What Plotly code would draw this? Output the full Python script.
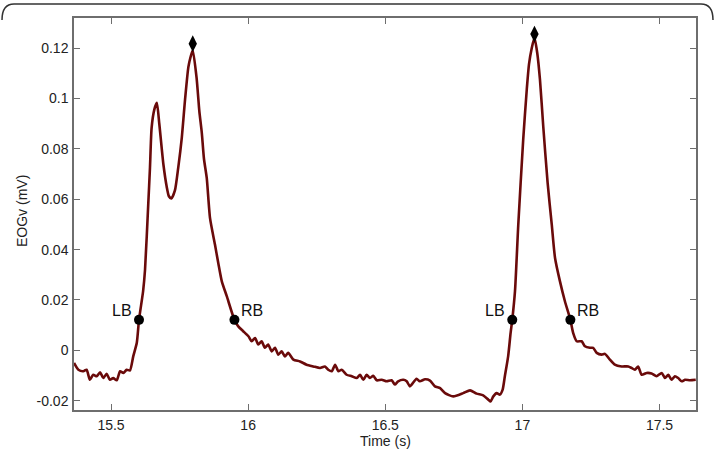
import plotly.graph_objects as go

# ---- data ----
time_s = [
    15.365, 15.381, 15.399, 15.411, 15.423, 15.435, 15.448, 15.460, 15.472, 15.484,
    15.496, 15.508, 15.521, 15.533, 15.545, 15.557, 15.569, 15.581, 15.594, 15.602,
    15.617, 15.624, 15.636, 15.642, 15.648, 15.658, 15.667, 15.676, 15.691, 15.703,
    15.711, 15.720, 15.733, 15.745, 15.758, 15.770, 15.782, 15.790, 15.798, 15.812,
    15.822, 15.831, 15.839, 15.849, 15.861, 15.879, 15.891, 15.904, 15.922, 15.950,
    15.964, 15.982, 16.001, 16.013, 16.025, 16.037, 16.049, 16.061, 16.073, 16.086,
    16.098, 16.110, 16.122, 16.134, 16.146, 16.165, 16.189, 16.213, 16.238, 16.262,
    16.280, 16.292, 16.305, 16.317, 16.329, 16.341, 16.359, 16.378, 16.396, 16.408,
    16.420, 16.432, 16.444, 16.456, 16.469, 16.487, 16.505, 16.523, 16.535, 16.547,
    16.566, 16.578, 16.590, 16.614, 16.626, 16.645, 16.663, 16.681, 16.700, 16.718,
    16.748, 16.784, 16.809, 16.833, 16.857, 16.876, 16.884, 16.894, 16.906, 16.918,
    16.928, 16.936, 16.948, 16.957, 16.963, 16.973, 16.985, 17.003, 17.016, 17.024,
    17.034, 17.044, 17.054, 17.064, 17.076, 17.092, 17.107, 17.119, 17.137, 17.155,
    17.175, 17.185, 17.198, 17.216, 17.228, 17.246, 17.258, 17.271, 17.289, 17.301,
    17.319, 17.337, 17.362, 17.386, 17.398, 17.410, 17.422, 17.435, 17.453, 17.471,
    17.489, 17.508, 17.520, 17.532, 17.544, 17.556, 17.568, 17.581, 17.593, 17.611,
    17.632,
]
eogv_mv = [
    -0.0050, -0.0077, -0.0083, -0.0077, -0.0117, -0.0097, -0.0103, -0.0087, -0.0110, -0.0093,
    -0.0117, -0.0110, -0.0119, -0.0083, -0.0090, -0.0077, -0.0080, -0.0024, 0.0030, 0.0121,
    0.0235, 0.0320, 0.0586, 0.0725, 0.0884, 0.0957, 0.0983, 0.0900, 0.0738, 0.0650,
    0.0612, 0.0603, 0.0635, 0.0725, 0.0844, 0.0997, 0.1125, 0.1165, 0.1192, 0.1082,
    0.0950, 0.0864, 0.0760, 0.0685, 0.0525, 0.0420, 0.0347, 0.0274, 0.0215, 0.0121,
    0.0095, 0.0076, 0.0056, 0.0036, 0.0049, 0.0023, 0.0036, 0.0010, 0.0023, -0.0004,
    0.0010, -0.0017, -0.0004, -0.0024, -0.0010, -0.0037, -0.0044, -0.0057, -0.0064, -0.0070,
    -0.0064, -0.0077, -0.0083, -0.0057, -0.0083, -0.0077, -0.0097, -0.0103, -0.0110, -0.0097,
    -0.0117, -0.0097, -0.0110, -0.0101, -0.0119, -0.0117, -0.0123, -0.0119, -0.0136, -0.0123,
    -0.0117, -0.0123, -0.0143, -0.0113, -0.0123, -0.0115, -0.0120, -0.0143, -0.0150, -0.0170,
    -0.0183, -0.0170, -0.0159, -0.0172, -0.0179, -0.0196, -0.0203, -0.0183, -0.0170, -0.0176,
    -0.0156, -0.0103, -0.0024, 0.0069, 0.0121, 0.0235, 0.0500, 0.0838, 0.1037, 0.1136,
    0.1200, 0.1241, 0.1182, 0.1076, 0.0890, 0.0665, 0.0500, 0.0367, 0.0274, 0.0195,
    0.0121, 0.0069, 0.0036, 0.0036, 0.0016, 0.0010, 0.0010, -0.0010, -0.0017, -0.0014,
    -0.0037, -0.0057, -0.0064, -0.0064, -0.0070, -0.0077, -0.0064, -0.0097, -0.0090, -0.0092,
    -0.0103, -0.0090, -0.0110, -0.0097, -0.0117, -0.0103, -0.0110, -0.0123, -0.0117, -0.0119,
    -0.0117,
]

peak_t = [15.798, 17.044]
peak_v = [0.1218, 0.1256]

bound_t = [15.602, 15.950, 16.963, 17.175]
bound_v = [0.0121, 0.0121, 0.0121, 0.0121]
bound_labels = ["LB", "RB", "LB", "RB"]

x_tickvals = [15.5, 16, 16.5, 17, 17.5]
x_ticktext = ["15.5", "16", "16.5", "17", "17.5"]
y_tickvals = [-0.02, 0, 0.02, 0.04, 0.06, 0.08, 0.1, 0.12]
y_ticktext = ["-0.02", "0", "0.02", "0.04", "0.06", "0.08", "0.1", "0.12"]

x_title = "Time (s)"
y_title = "EOGv (mV)"

x_range = [15.365, 17.633]
y_range = [-0.0237, 0.132]

FONT = "Liberation Sans, Arial, Helvetica, sans-serif"

fig = go.Figure()
fig.add_trace(go.Scatter(
    x=time_s, y=eogv_mv, mode="lines",
    line=dict(color="#6a0a0a", width=2.6, shape="spline", smoothing=0.6),
    hoverinfo="skip", showlegend=False,
))
fig.add_trace(go.Scatter(
    x=peak_t, y=peak_v, mode="markers",
    marker=dict(symbol="diamond-tall", size=12, color="black"),
    showlegend=False,
))
fig.add_trace(go.Scatter(
    x=bound_t, y=bound_v, mode="markers",
    marker=dict(symbol="circle", size=10, color="black"),
    showlegend=False,
))

for t, v, lab in zip(bound_t, bound_v, bound_labels):
    left = lab == "LB"
    fig.add_annotation(
        x=t, y=v, text=lab, showarrow=False,
        xanchor="right" if left else "left", yanchor="middle",
        xshift=-5 if left else 5, yshift=9,
        font=dict(family=FONT, size=16, color="#111"),
    )

axis_common = dict(
    showgrid=False, zeroline=False, showline=True, mirror="ticks",
    linecolor="#6e6e6e", linewidth=1.5,
    ticks="inside", ticklen=6, tickwidth=1.2, tickcolor="#6e6e6e",
    tickfont=dict(family=FONT, size=14, color="#222"),
    automargin=False,
)

fig.update_xaxes(
    range=x_range, tickmode="array", tickvals=x_tickvals, ticktext=x_ticktext,
    ticklabelstandoff=1,
    **axis_common,
)
fig.update_yaxes(
    range=y_range, tickmode="array", tickvals=y_tickvals, ticktext=y_ticktext,
    ticklabelstandoff=1,
    **axis_common,
)

# layout geometry in pixels -> paper conversion
L, R, T, B = 74, 696, 18, 410
def px(xp):
    return (xp - L) / (R - L)
def py(yp):
    return (B - yp) / (B - T)

# axis titles
fig.add_annotation(
    xref="paper", yref="paper", x=0.5, y=py(441), text=x_title, showarrow=False,
    xanchor="center", yanchor="middle", font=dict(family=FONT, size=14, color="#222"),
)
fig.add_annotation(
    xref="paper", yref="paper", x=px(22), y=py(211), text=y_title, showarrow=False,
    textangle=-90, xanchor="center", yanchor="middle",
    font=dict(family=FONT, size=14, color="#222"),
)

# rounded frame at the top of the figure
path = (
    f"M {px(2)},{py(20)} Q {px(2)},{py(4)} {px(14)},{py(4)} "
    f"L {px(701)},{py(4)} Q {px(713)},{py(4)} {px(713)},{py(20)}"
)
fig.add_shape(type="path", xref="paper", yref="paper", path=path,
              line=dict(color="#333", width=1.5))

fig.update_layout(
    width=715, height=450,
    margin=dict(l=L, r=715 - R, t=T, b=450 - B),
    paper_bgcolor="white", plot_bgcolor="white",
    font=dict(family=FONT),
)

fig.write_html("out.html")
